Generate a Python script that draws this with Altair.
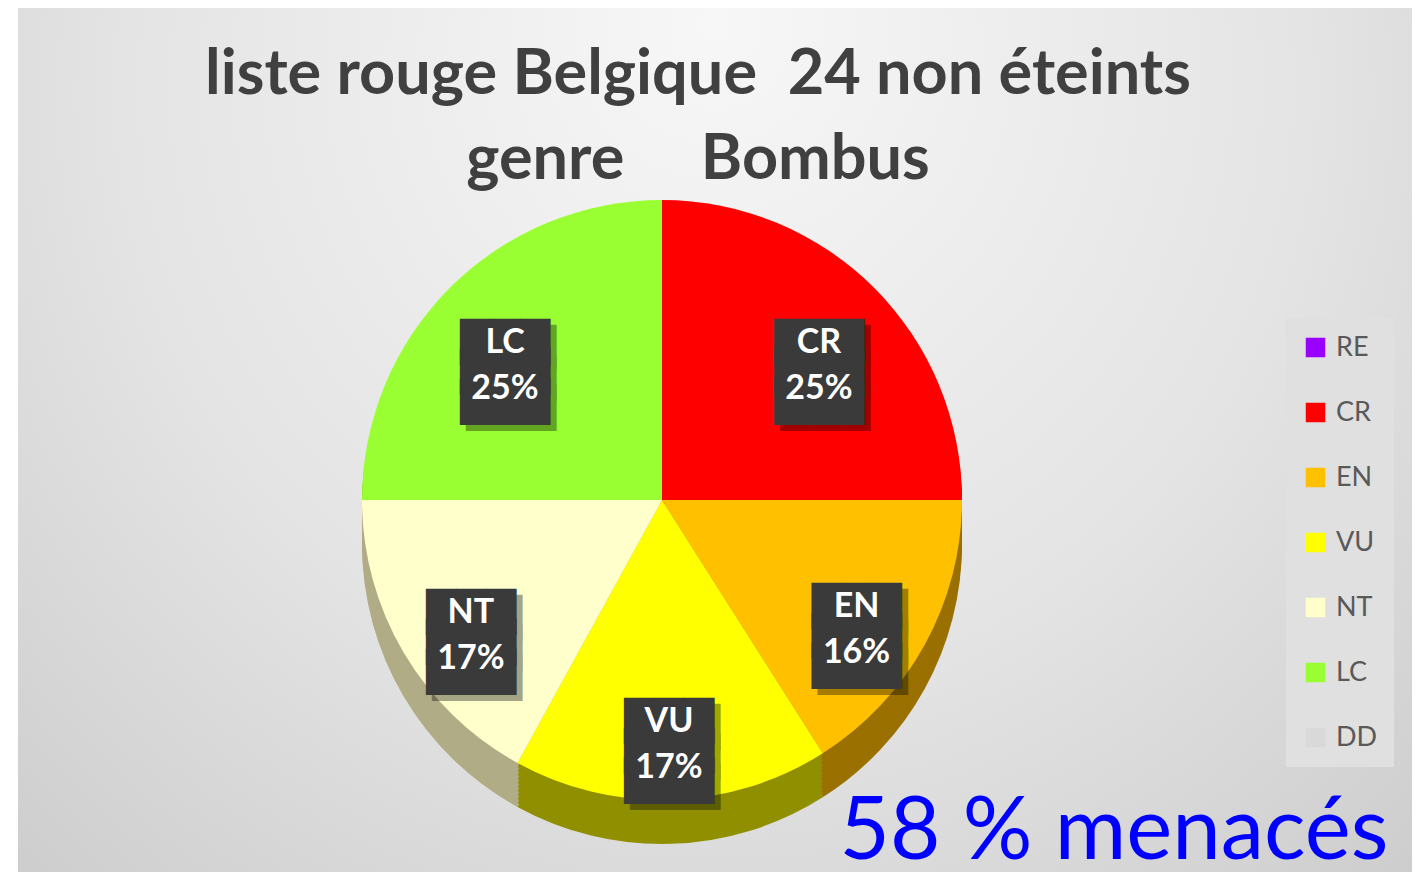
import altair as alt
import pandas as pd

# ---- data ----
categories = ["RE", "CR", "EN", "VU", "NT", "LC", "DD"]
percent = [0, 25, 16, 17, 17, 25, 0]
NB = "\u00a0"
title_lines = ["liste rouge Belgique" + NB * 2 + "24 non éteints", "genre" + NB * 5 + "Bombus"]
note = "58 % menacés"

# ---- styles ----
colors = ["#9900ff", "#ff0000", "#ffc000", "#ffff00", "#ffffcc", "#99ff33", "#d9d9d9"]
side_colors = ["#5c0099", "#8f0000", "#9a7000", "#8f8f00", "#b0ac86", "#5c9a1e", "#9a9a9a"]

W, H = 1424, 872
CX, CY = 662, 500
R = 300
LABEL_R = 222

df = pd.DataFrame({"cat": categories, "pct": percent, "ord": list(range(len(categories)))})
df["label"] = df["cat"] + "\n" + df["pct"].astype(str) + "%"

base = alt.Chart(df).encode(
    theta=alt.Theta("pct:Q", stack=True),
    order=alt.Order("ord:Q"),
)

one = alt.Data(values=[{}])

bg = alt.Chart(one).mark_rect(
    fill=alt.RadialGradient(
        gradient="radial",
        x1=0.5, y1=0.2, r1=0.0,
        x2=0.5, y2=0.3, r2=0.85,
        stops=[alt.GradientStop(color="#f7f7f7", offset=0),
               alt.GradientStop(color="#e4e4e4", offset=0.5),
               alt.GradientStop(color="#c4c4c4", offset=1)],
    )
).encode(x=alt.value(18), x2=alt.value(1412), y=alt.value(8), y2=alt.value(H))

sides = []
for d in [44, 40, 36, 32, 28, 24, 20, 16, 12, 8, 4]:
    sides.append(
        base.mark_arc(outerRadius=R).encode(
            color=alt.Color("cat:N", scale=alt.Scale(domain=categories, range=side_colors), legend=None),
            x=alt.value(CX), y=alt.value(CY + d),
        )
    )

main = base.mark_arc(outerRadius=R).encode(
    color=alt.Color(
        "cat:N",
        scale=alt.Scale(domain=categories, range=colors),
        legend=alt.Legend(
            title=None, orient="none", legendX=1286, legendY=318,
            symbolType="square", symbolSize=380, symbolStrokeWidth=0,
            labelFontSize=27, labelFont="Lato", labelColor="#595959",
            rowPadding=37, fillColor="#e0e0e0", padding=16, labelOffset=7,
        ),
    ),
    x=alt.value(CX), y=alt.value(CY),
)

lab = base.transform_filter("datum.pct > 0")

block = ["███", "███", "███"]

shadow = lab.mark_text(
    radius=LABEL_R, text=block, font="DejaVu Sans", fontSize=39, lineHeight=30,
    color="#000000", opacity=0.35, baseline="middle", dx=6, dy=6,
).encode(x=alt.value(CX), y=alt.value(CY))

box = lab.mark_text(
    radius=LABEL_R, text=block, font="DejaVu Sans", fontSize=39, lineHeight=30,
    color="#3a3a3a", baseline="middle",
).encode(x=alt.value(CX), y=alt.value(CY))

txt = lab.mark_text(
    radius=LABEL_R, font="Lato", fontWeight="bold", fontSize=34, lineHeight=46,
    color="white", lineBreak="\n", baseline="middle",
).encode(text="label:N", x=alt.value(CX), y=alt.value(CY))

title_t = alt.Chart(one).mark_text(
    text=title_lines, font="Lato", fontSize=63, fontWeight="bold", color="#404040",
    lineHeight=85, align="center", baseline="alphabetic",
).encode(x=alt.value(698), y=alt.value(94))

note_t = alt.Chart(one).mark_text(
    text=note, font="Lato", fontSize=87, color="#0000ff", align="center", baseline="alphabetic",
).encode(x=alt.value(1114), y=alt.value(859))

chart = alt.layer(bg, *sides, main, shadow, box, txt, title_t, note_t).resolve_scale(
    color="independent"
).properties(
    width=W, height=H,
    padding=0,
    autosize="none",
    background="white",
).configure_view(stroke=None)

chart.save("out.html", embed_options={"renderer": "svg", "actions": False})
